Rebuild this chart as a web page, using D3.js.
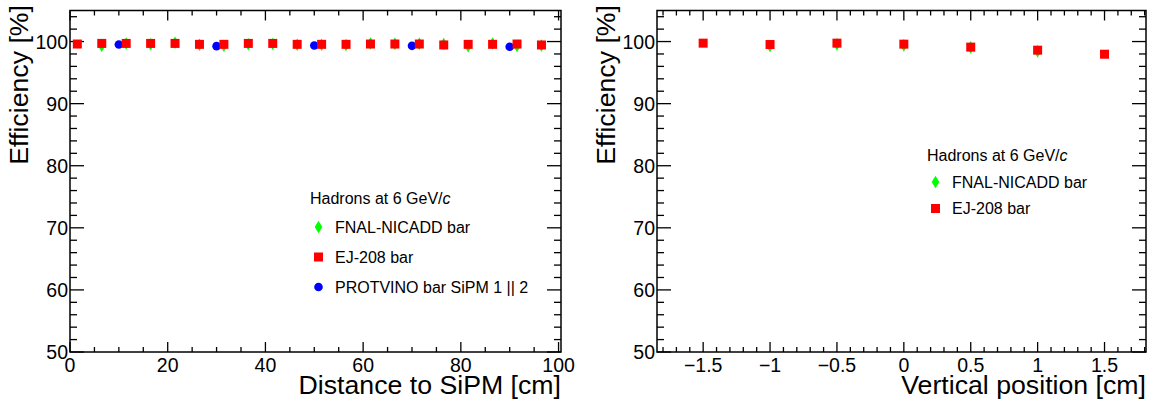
<!DOCTYPE html>
<html>
<head>
<meta charset="utf-8">
<script src="https://cdn.jsdelivr.net/npm/d3@7"></script>
<style>
  html, body { margin: 0; padding: 0; background: #fff; }
  svg { display: block; font-family: "Liberation Sans", Arial, Helvetica, sans-serif; }
</style>
</head>
<body>
<svg id="chart" width="1154" height="401"></svg>
<script>
// ---------------- Data ----------------
// Left panel: efficiency vs distance to SiPM
const distEJ = [1.5, 6.5, 11.5, 16.5, 21.5, 26.5, 31.5, 36.5, 41.5, 46.5, 51.5, 56.5, 61.5, 66.5, 71.5, 76.5, 81.5, 86.5, 91.5, 96.5];
const effEJ  = [99.6, 99.7, 99.7, 99.7, 99.7, 99.55, 99.55, 99.7, 99.7, 99.55, 99.55, 99.55, 99.6, 99.6, 99.6, 99.45, 99.55, 99.55, 99.6, 99.45];
const distFNAL = [6.5, 11.5, 16.5, 21.5, 26.5, 31.5, 36.5, 41.5, 46.5, 51.5, 56.5, 61.5, 66.5, 71.5, 76.5, 81.5, 86.5, 91.5, 96.5];
const effFNAL  = [99.32, 99.68, 99.56, 99.81, 99.48, 99.32, 99.56, 99.6, 99.48, 99.48, 99.45, 99.68, 99.63, 99.63, 99.6, 99.24, 99.68, 99.3, 99.37];
const distProt = [10, 30, 50, 70, 90];
const effProt  = [99.52, 99.26, 99.36, 99.31, 99.15];

// Right panel: efficiency vs vertical position
const vposEJ  = [-1.5, -1, -0.5, 0, 0.5, 1, 1.5];
const veffEJ  = [99.74, 99.52, 99.74, 99.58, 99.1, 98.61, 97.96];
const vposFNAL = [-1, -0.5, 0, 0.5, 1];
const veffFNAL = [99.3, 99.55, 99.39, 99.06, 98.42];

// Tick values / labels
const yMajor = [50, 60, 70, 80, 90, 100];
const xMajorLeft = [0, 20, 40, 60, 80, 100];
const xMajorRight = [-1.5, -1, -0.5, 0, 0.5, 1, 1.5];
const xLabelsRight = ["\u22121.5", "\u22121", "\u22120.5", "0", "0.5", "1", "1.5"];

const legendTitle = "Hadrons at 6 GeV/";
const legendNames = ["FNAL-NICADD bar", "EJ-208 bar", "PROTVINO bar SiPM 1 || 2"];
const colGreen = "#00ff00", colRed = "#ff0000", colBlue = "#0000ff";

// ---------------- Drawing ----------------
const svg = d3.select("#chart");
const TOP = 10.5, BOTTOM = 352;
const TICKFONT = 19.5, TITLEFONT = 26.7;

const diamond = "M0,-6.3L3.8,0L0,6.3L-3.8,0Z";

function panel(opt) {
  const g = svg.append("g");
  const x = d3.scaleLinear().domain(opt.xdom).range([opt.x0, opt.x1]);
  const y = d3.scaleLinear().domain([50, 105]).range([BOTTOM, TOP]);

  // y ticks
  const yMinor = d3.range(50, 105.01, 2);
  yMinor.forEach(v => {
    const major = v % 10 === 0;
    const len = major ? 14 : 7;
    g.append("line").attr("x1", opt.x0).attr("x2", opt.x0 + len).attr("y1", y(v)).attr("y2", y(v)).attr("stroke", "#000").attr("stroke-width", 1.3);
    g.append("line").attr("x1", opt.x1).attr("x2", opt.x1 - len).attr("y1", y(v)).attr("y2", y(v)).attr("stroke", "#000").attr("stroke-width", 1.3);
  });
  yMajor.forEach(v => {
    g.append("text").attr("x", opt.x0 - 2).attr("y", y(v)).attr("dy", "0.36em")
      .attr("text-anchor", "end").attr("font-size", TICKFONT).text(v);
  });

  // x ticks
  opt.xminor.forEach(v => {
    const major = opt.xmajor.some(m => Math.abs(m - v) < 1e-6);
    const len = major ? 10 : 5;
    g.append("line").attr("x1", x(v)).attr("x2", x(v)).attr("y1", BOTTOM).attr("y2", BOTTOM - len).attr("stroke", "#000").attr("stroke-width", 1.3);
    g.append("line").attr("x1", x(v)).attr("x2", x(v)).attr("y1", TOP).attr("y2", TOP + len).attr("stroke", "#000").attr("stroke-width", 1.3);
  });
  opt.xmajor.forEach((v, i) => {
    g.append("text").attr("x", x(v)).attr("y", 372)
      .attr("text-anchor", "middle").attr("font-size", TICKFONT).text(opt.xlabels[i]);
  });

  // frame
  g.append("rect").attr("x", opt.x0).attr("y", TOP).attr("width", opt.x1 - opt.x0).attr("height", BOTTOM - TOP)
    .attr("fill", "none").attr("stroke", "#000").attr("stroke-width", 1.5);

  // titles
  g.append("text").attr("x", opt.x1).attr("y", 394).attr("text-anchor", "end").attr("font-size", TITLEFONT).text(opt.xtitle);
  g.append("text").attr("transform", `translate(${opt.x0 - 42},5) rotate(-90)`).attr("text-anchor", "end")
    .attr("font-size", TITLEFONT).text("Efficiency [%]");

  // markers
  opt.series.forEach(s => {
    const sg = g.append("g");
    s.xs.forEach((xv, i) => {
      if (s.shape === "diamond") {
        sg.append("path").attr("d", diamond).attr("transform", `translate(${x(xv)},${y(s.ys[i])})`).attr("fill", s.color);
      } else if (s.shape === "square") {
        sg.append("rect").attr("x", x(xv) - 4.5).attr("y", y(s.ys[i]) - 4.5).attr("width", 9).attr("height", 9).attr("fill", s.color);
      } else {
        sg.append("circle").attr("cx", x(xv)).attr("cy", y(s.ys[i])).attr("r", 4.3).attr("fill", s.color);
      }
    });
  });

  // legend
  const L = opt.legend;
  const t = g.append("text").attr("x", L.x).attr("y", L.y).attr("dy", "0.36em").attr("font-size", 16);
  t.append("tspan").text(legendTitle);
  t.append("tspan").attr("font-style", "italic").text("c");
  L.items.forEach((it, i) => {
    const cy = L.y + L.first + i * L.step;
    const mx = L.x + 8.5;
    if (it.shape === "diamond") {
      g.append("path").attr("d", diamond).attr("transform", `translate(${mx},${cy})`).attr("fill", it.color);
    } else if (it.shape === "square") {
      g.append("rect").attr("x", mx - 4.5).attr("y", cy - 4.5).attr("width", 9).attr("height", 9).attr("fill", it.color);
    } else {
      g.append("circle").attr("cx", mx).attr("cy", cy).attr("r", 4.3).attr("fill", it.color);
    }
    g.append("text").attr("x", L.x + 25).attr("y", cy).attr("dy", "0.36em").attr("font-size", 16).text(it.name);
  });
}

panel({
  x0: 70, x1: 561, xdom: [0, 100.5],
  xmajor: xMajorLeft, xlabels: xMajorLeft.map(String),
  xminor: d3.range(0, 100.01, 5),
  xtitle: "Distance to SiPM [cm]",
  series: [
    {xs: distFNAL, ys: effFNAL, color: colGreen, shape: "diamond"},
    {xs: distProt, ys: effProt, color: colBlue, shape: "circle"},
    {xs: distEJ, ys: effEJ, color: colRed, shape: "square"}
  ],
  legend: {x: 310, y: 198, first: 29, step: 30, items: [
    {name: legendNames[0], color: colGreen, shape: "diamond"},
    {name: legendNames[1], color: colRed, shape: "square"},
    {name: legendNames[2], color: colBlue, shape: "circle"}
  ]}
});

panel({
  x0: 657, x1: 1146, xdom: [-1.845, 1.81],
  xmajor: xMajorRight, xlabels: xLabelsRight,
  xminor: d3.range(-18, 18.01, 1).map(v => v / 10),
  xtitle: "Vertical position [cm]",
  series: [
    {xs: vposFNAL, ys: veffFNAL, color: colGreen, shape: "diamond"},
    {xs: vposEJ, ys: veffEJ, color: colRed, shape: "square"}
  ],
  legend: {x: 927, y: 155, first: 27, step: 26.5, items: [
    {name: legendNames[0], color: colGreen, shape: "diamond"},
    {name: legendNames[1], color: colRed, shape: "square"}
  ]}
});
</script>
</body>
</html>
